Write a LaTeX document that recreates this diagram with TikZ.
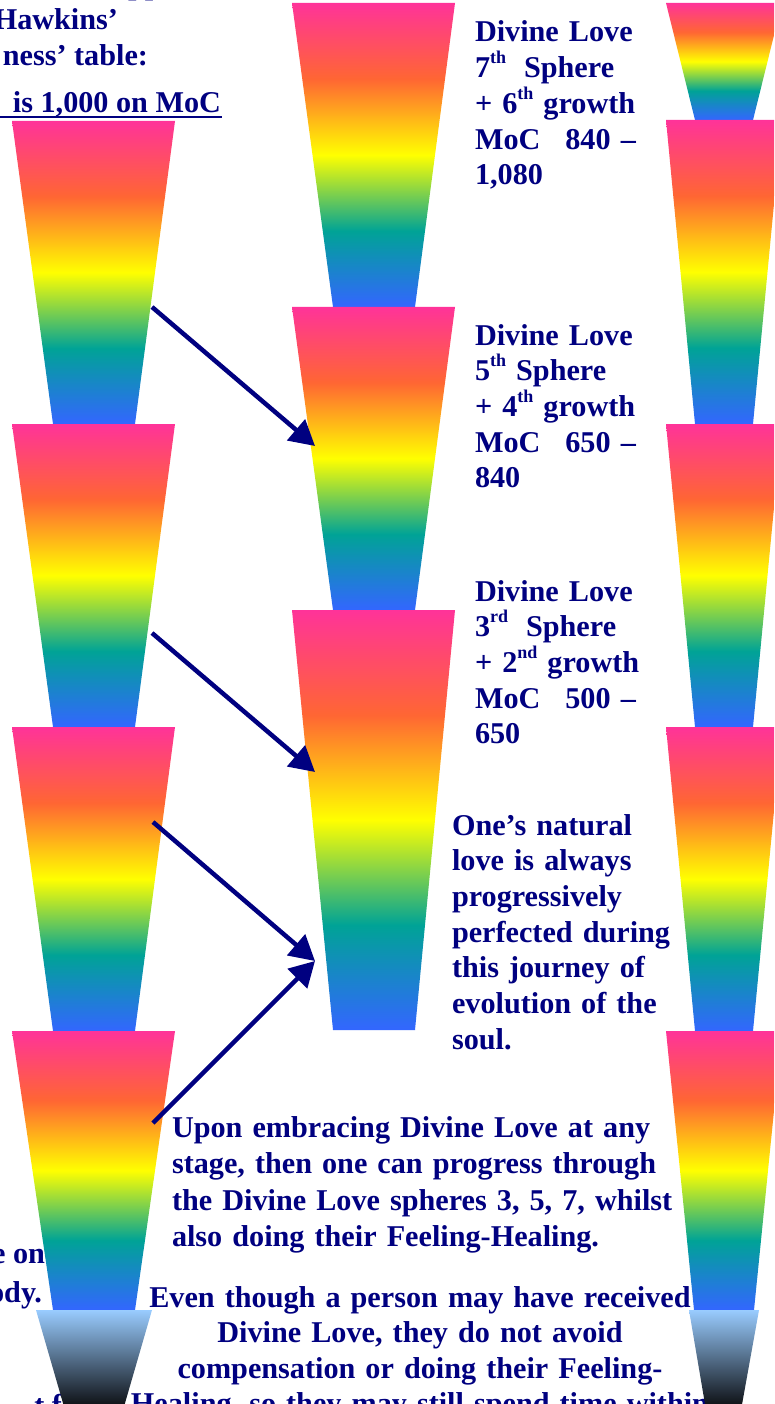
\documentclass[tikz,border=0pt]{standalone}
\usepackage{fontspec}
\setmainfont{Liberation Serif}
\usetikzlibrary{arrows.meta}
\definecolor{navytext}{RGB}{0,0,128}
\definecolor{cpink}{RGB}{255,51,153}
\definecolor{corange}{RGB}{255,102,51}
\definecolor{cyellow}{RGB}{255,255,0}
\definecolor{cteal}{RGB}{0,163,150}
\definecolor{cblue}{RGB}{51,102,255}
\definecolor{clight}{RGB}{153,204,255}
\definecolor{cdark}{RGB}{8,8,10}
\pgfdeclareverticalshading{rainbow}{100bp}{color(0bp)=(cblue); color(25bp)=(cblue); color(37.5bp)=(cteal); color(50bp)=(cyellow); color(62.5bp)=(corange); color(75bp)=(cpink); color(100bp)=(cpink)}
\pgfdeclareverticalshading{darkcone}{100bp}{color(0bp)=(cdark); color(25bp)=(cdark); color(75bp)=(clight); color(100bp)=(clight)}
\newcommand{\supr}[1]{\raisebox{14pt}{\fontsize{18}{18}\selectfont #1}}
% cone: top-left x, top-right x, bottom-left x, bottom-right x, top y, bottom y, shading
\newcommand{\cone}[7]{\shade[shading=#7] (#1,#5) -- (#2,#5) -- (#4,#6) -- (#3,#6) -- cycle;}
\tikzset{
  txt/.style={inner sep=0pt, outer sep=0pt, text=navytext, font=\fontsize{30.2}{35.7}\selectfont\bfseries, anchor=base west, align=left, text width=#1},
  txt/.default=300pt,
  frag/.style={inner sep=0pt, outer sep=0pt, text=navytext, font=\fontsize{30.2}{35.7}\selectfont\bfseries, anchor=base east},
  arr/.style={draw=navytext, line width=4.5pt, -{Triangle[length=25pt,width=27pt]}}
}
\begin{document}
\begin{tikzpicture}[x=1pt,y=-1pt]
\useasboundingbox (0,0) rectangle (774,1404);
\clip (0,0) rectangle (774,1404);
\fill[white] (0,0) rectangle (774,1404);
% ---- texts (under cones)
\node[frag, anchor=base west] (tpp) at (128,-5) {pp};
\node[frag] (thaw) at (118,30) {Hawkins’};
\node[frag] (tness) at (148,66) {ness’ table:};
\node[frag] (tmoc) at (221,113) {is 1,000 on MoC};
\draw[navytext, line width=2.5pt] (-5,117) -- (tmoc.base east |- 0,117) -- ++(1,0);
\node[frag] (teon) at (45,1263) {e on};
\node[frag] (tody) at (42,1302) {ody.};
\node[frag] (ttf) at (62,1415) {t f};
\node[txt] (b7) at (475,42) {Divine Love\\ 7\supr{th}\hspace{18pt}Sphere\\ + 6\supr{th} growth\\ MoC\hspace{25pt}840 –\\ 1,080};
\node[txt] (b5) at (475,345) {Divine Love\\ 5\supr{th} Sphere\\ + 4\supr{th} growth\\ MoC\hspace{25pt}650 –\\ 840};
\node[txt] (b3) at (475,601) {Divine Love\\ 3\supr{rd}\hspace{18pt}Sphere\\ + 2\supr{nd} growth\\ MoC\hspace{25pt}500 –\\ 650};
\node[txt] (bnat) at (452,835) {One’s natural\\ love is always\\ progressively\\ perfected during\\ this journey of\\ evolution of the\\ soul.};
\node[txt=600pt, font=\fontsize{30.2}{36.5}\selectfont\bfseries] (bupon) at (172,1137) {Upon embracing Divine Love at any\\ stage, then one can progress through\\ the Divine Love spheres 3, 5, 7, whilst\\ also doing their Feeling-Healing.};
\node[txt=640pt, align=center, anchor=base, font=\fontsize{30.2}{35.5}\selectfont\bfseries] (beven) at (420,1307) {Even though a person may have received\\ Divine Love, they do not avoid\\ compensation or doing their Feeling-\\ Healing, so they may still spend time within};
% ---- left column cones
\cone{12}{175}{53}{135}{121}{424}{rainbow}
\cone{12}{175}{53}{135}{424}{727}{rainbow}
\cone{12}{175}{53}{135}{727}{1031}{rainbow}
\cone{12}{175}{53}{135}{1031}{1310}{rainbow}
\cone{36}{152}{65}{123}{1310}{1410}{darkcone}
% ---- middle column cones
\cone{292}{455}{333}{415}{3}{307}{rainbow}
\cone{292}{455}{333}{415}{307}{610}{rainbow}
\cone{292}{455}{333}{415}{610}{1030}{rainbow}
% ---- right column cones
\cone{666}{782}{695}{753}{3}{120}{rainbow}
\cone{666}{782}{695}{753}{120}{424}{rainbow}
\cone{666}{782}{695}{753}{424}{727}{rainbow}
\cone{666}{782}{695}{753}{727}{1031}{rainbow}
\cone{666}{782}{694}{754}{1031}{1310}{rainbow}
\cone{689}{759}{706}{741}{1310}{1410}{darkcone}
% ---- arrow end points
\coordinate (s1) at (152,307);
\coordinate (e1) at (315,446);
\coordinate (s2) at (152,633);
\coordinate (e2) at (315,772);
\coordinate (s3) at (153,822);
\coordinate (s4) at (153,1123);
\coordinate (e34) at (315,961);
\draw[arr] (s1) -- (e1);
\draw[arr] (s2) -- (e2);
\draw[arr] (s3) -- (e34);
\draw[arr] (s4) -- (e34);
\end{tikzpicture}
\end{document}
